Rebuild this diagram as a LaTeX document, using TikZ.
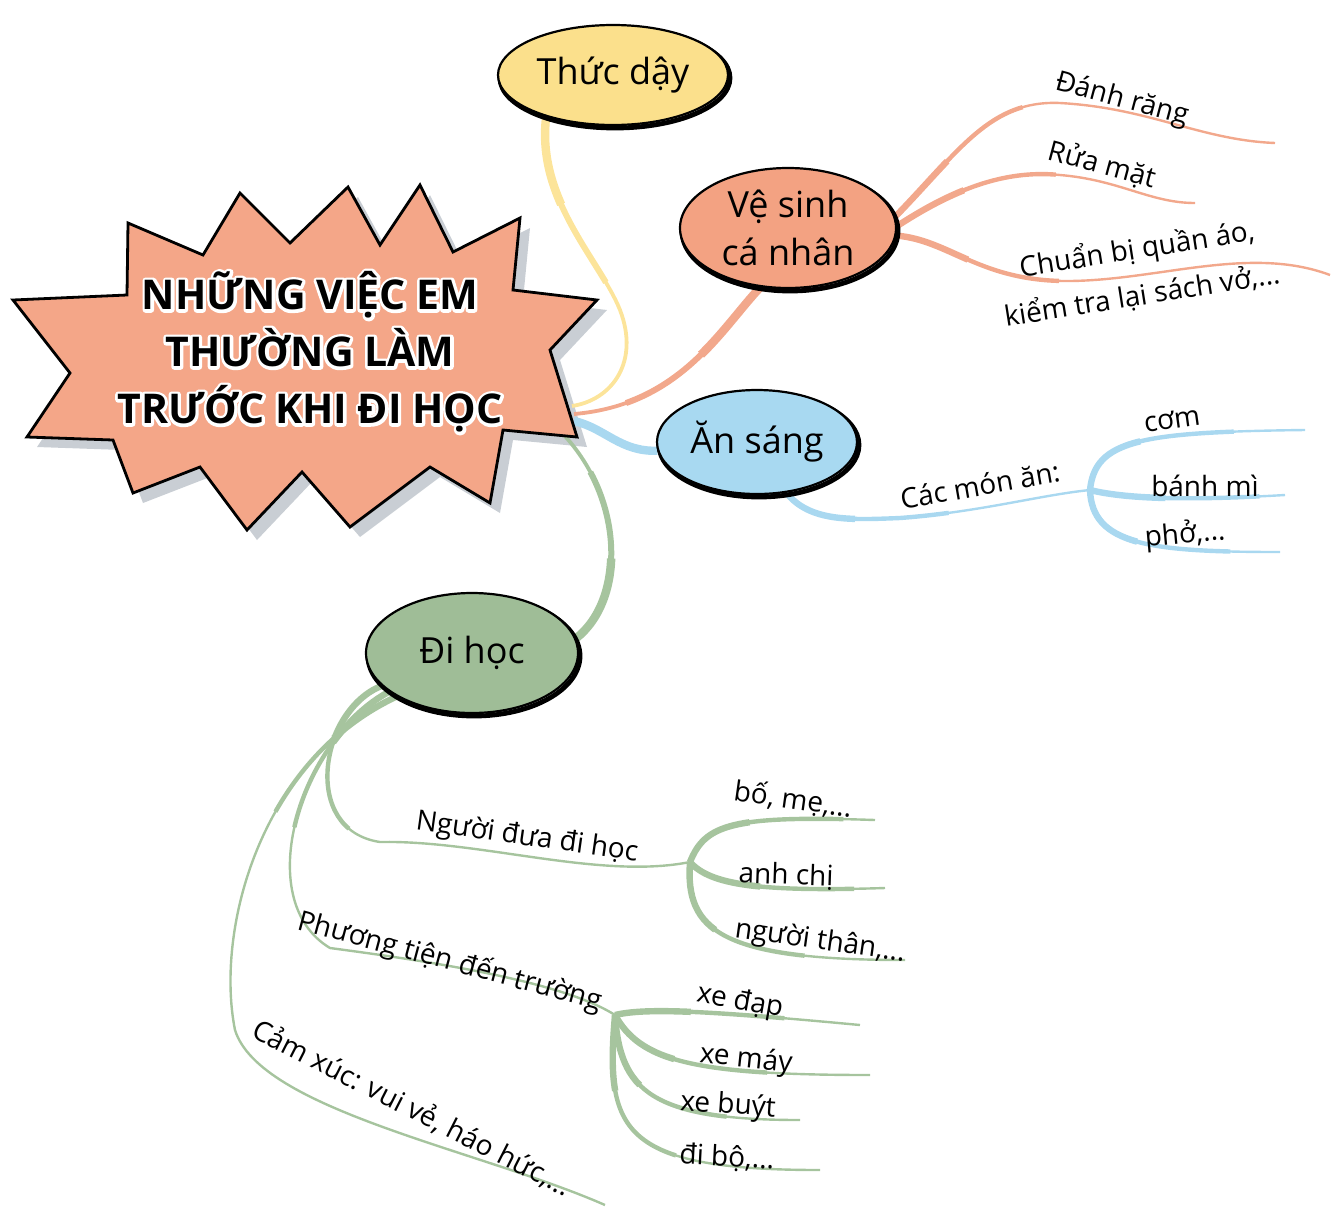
\documentclass[tikz,border=0pt]{standalone}
\usepackage{fontspec}
\setmainfont{Open Sans}
\usetikzlibrary{shapes.geometric}

\definecolor{starfill}{HTML}{F4A688}
\definecolor{starshade}{HTML}{C9CED4}
\definecolor{wakefill}{HTML}{FBE08C}
\definecolor{wakeline}{HTML}{FCE49A}
\definecolor{washfill}{HTML}{F3A282}
\definecolor{washline}{HTML}{F2A88C}
\definecolor{eatfill}{HTML}{A8D9F1}
\definecolor{eatline}{HTML}{A9D8F0}
\definecolor{gofill}{HTML}{9FBD97}
\definecolor{goline}{HTML}{A6C49E}

\pgfdeclarelayer{background}
\pgfsetlayers{background,main}

% tapering branches: thick at the start, thin at the end
\newcommand{\limb}[2]{%
  \draw[#1, line width=1.9pt] #2;
  \draw[#1, line width=3pt, dash pattern=on 90pt off 2000pt] #2;
  \draw[#1, line width=4.2pt, dash pattern=on 45pt off 2000pt] #2;}
\newcommand{\twig}[2]{%
  \draw[#1, line width=1.2pt] #2;
  \draw[#1, line width=2.2pt, dash pattern=on 85pt off 2000pt] #2;
  \draw[#1, line width=3.2pt, dash pattern=on 38pt off 2000pt] #2;}
% white stroked letters behind the title
\newcommand{\halo}[1]{\special{pdf:literal direct 3 w 1 j 2 Tr}#1\special{pdf:literal direct 0 Tr}}

\newcommand{\starpath}{(128,223) -- (203,255) -- (240,193) -- (290,243) -- (348,187) -- (380,245)
  -- (420,185) -- (453,252) -- (520,218) -- (513,290) -- (597,300) -- (550,350) -- (577,437)
  -- (503,430) -- (490,503) -- (430,467) -- (350,527) -- (302,472) -- (247,530) -- (200,467)
  -- (133,493) -- (113,440) -- (27,437) -- (70,373) -- (13,300) -- (127,295) -- cycle}

\begin{document}
\begin{tikzpicture}[x=0.5pt, y=-0.5pt,
  bubble/.style={ellipse, draw=black, line width=1.1pt, inner sep=0pt, align=center,
    font=\fontsize{18}{24}\selectfont,
    preaction={draw=black, line width=2.4pt, transform canvas={xshift=1pt, yshift=-1.5pt}}},
  title/.style={align=center, inner sep=0pt, font=\fontsize{20.5}{28.5}\selectfont\bfseries},
  note/.style={inner sep=0pt, font=\fontsize{14}{18}\selectfont},
  line cap=round]
\useasboundingbox (0,0) rectangle (1332,1211);

% the four topics
\node[bubble, fill=wakefill, minimum width=115pt, minimum height=50pt] (wake) at (613,75) {Thức dậy};
\node[bubble, fill=washfill, minimum width=108pt, minimum height=60pt] (wash) at (788,228) {Vệ sinh\\cá nhân};
\node[bubble, fill=eatfill, minimum width=100pt, minimum height=52pt] (eat) at (757,442) {Ăn sáng};
\node[bubble, fill=gofill, minimum width=106pt, minimum height=60pt] (go) at (472,653) {Đi học};

% free ends and forks of the branches
\coordinate (hubY) at (572,406);
\coordinate (hubO) at (574,414);
\coordinate (hubB) at (574,421);
\coordinate (hubG) at (563,434);
\coordinate (r1) at (1275,143);
\coordinate (r2) at (1195,203);
\coordinate (r3) at (1330,275);
\coordinate (a0) at (1090,490);
\coordinate (a1) at (1305,430);
\coordinate (a2) at (1285,495);
\coordinate (a3) at (1280,552);
\coordinate (g0) at (690,862);
\coordinate (g1) at (875,820);
\coordinate (g2) at (885,888);
\coordinate (g3) at (905,960);
\coordinate (g4) at (615,1015);
\coordinate (g5) at (860,1025);
\coordinate (g6) at (870,1075);
\coordinate (g7) at (800,1120);
\coordinate (g8) at (820,1170);
\coordinate (g9) at (605,1205);

\begin{pgfonlayer}{background}
  % shadow of the star
  \begin{scope}[shift={(10,10)}]
    \fill[starshade] \starpath;
  \end{scope}

  % topic connectors
  \limb{wakeline}{(wake.212) .. controls (536,200) and (600,260) .. (620,310) .. controls (640,362) and (612,400) .. (hubY)}
  \limb{washline}{(wash.245) .. controls (720,330) and (680,405) .. (hubO)}
  \limb{eatline}{(eat.185) .. controls (620,452) and (605,428) .. (hubB)}
  \limb{goline}{(go.8) .. controls (625,600) and (625,500) .. (hubG)}

  % Ve sinh
  \twig{washline}{(wash.6) .. controls (960,150) and (990,100) .. (1060,103) .. controls (1150,108) and (1200,140) .. (r1)}
  \twig{washline}{(wash.1) .. controls (960,185) and (1010,170) .. (1060,175) .. controls (1120,180) and (1150,203) .. (r2)}
  \twig{washline}{(wash.356) .. controls (950,240) and (980,282) .. (1070,281) .. controls (1160,280) and (1250,245) .. (r3)}

  % An sang
  \twig{eatline}{(eat.300) .. controls (810,522) and (850,520) .. (900,518) .. controls (980,512) and (1040,495) .. (a0)}
  \twig{eatline}{(a0) .. controls (1095,440) and (1140,432) .. (a1)}
  \twig{eatline}{(a0) .. controls (1130,500) and (1200,500) .. (a2)}
  \twig{eatline}{(a0) .. controls (1092,545) and (1150,552) .. (a3)}

  % Di hoc
  \twig{goline}{(go.200) .. controls (320,710) and (300,830) .. (380,842) .. controls (480,840) and (600,880) .. (g0)}
  \twig{goline}{(g0) .. controls (705,825) and (730,815) .. (g1)}
  \twig{goline}{(g0) .. controls (710,885) and (760,892) .. (g2)}
  \twig{goline}{(g0) .. controls (685,930) and (720,960) .. (g3)}
  \twig{goline}{(go.205) .. controls (300,740) and (250,900) .. (330,948) .. controls (420,960) and (560,980) .. (g4)}
  \twig{goline}{(g4) .. controls (645,1008) and (700,1010) .. (g5)}
  \twig{goline}{(g4) .. controls (640,1060) and (690,1075) .. (g6)}
  \twig{goline}{(g4) .. controls (620,1090) and (650,1120) .. (g7)}
  \twig{goline}{(g4) .. controls (605,1130) and (620,1170) .. (g8)}
  \twig{goline}{(go.210) .. controls (260,760) and (215,930) .. (235,1030) .. controls (260,1110) and (480,1150) .. (g9)}
\end{pgfonlayer}

% the star with its title
\filldraw[fill=starfill, draw=black, line width=1.4pt, line join=miter] \starpath;
\node[title, text=white] (halo) at (310,352)
  {\halo{NHỮNG VIỆC EM}\\\halo{THƯỜNG LÀM}\\\halo{TRƯỚC KHI ĐI HỌC}};
\node[title] (head) at (310,352) {NHỮNG VIỆC EM\\THƯỜNG LÀM\\TRƯỚC KHI ĐI HỌC};

% labels
\node[note, rotate=-15] (brush) at (1122,100) {Đánh răng};
\node[note, rotate=-15] (face) at (1102,165) {Rửa mặt};
\node[note, rotate=9] (dress) at (1137,250) {Chuẩn bị quần áo,};
\node[note, rotate=9] (books) at (1142,295) {kiểm tra lại sách vở,...};

\node[note, rotate=10] (dishes) at (980,485) {Các món ăn:};
\node[note, rotate=8] (rice) at (1172,420) {cơm};
\node[note] (bread) at (1205,486) {bánh mì};
\node[note, rotate=5] (pho) at (1185,535) {phở,...};

\node[note, rotate=-8] (taker) at (527,838) {Người đưa đi học};
\node[note, rotate=-8] (parents) at (793,800) {bố, mẹ,...};
\node[note, rotate=-2] (siblings) at (786,876) {anh chị};
\node[note, rotate=-8] (family) at (820,942) {người thân,...};
\node[note, rotate=-15] (means) at (450,962) {Phương tiện đến trường};
\node[note, rotate=-10] (bike) at (740,1002) {xe đạp};
\node[note, rotate=-6] (motor) at (746,1060) {xe máy};
\node[note, rotate=-4] (bus) at (728,1106) {xe buýt};
\node[note, rotate=-3] (walk) at (727,1158) {đi bộ,...};
\node[note, rotate=-27] (mood) at (412,1108) {Cảm xúc: vui vẻ, háo hức,...};
\end{tikzpicture}
\end{document}
